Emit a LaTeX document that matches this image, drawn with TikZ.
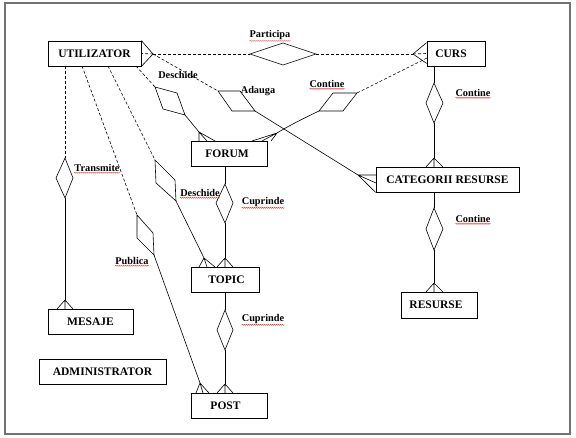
\documentclass[tikz,border=0pt]{standalone}
\usepackage{fontspec}
\setmainfont{Liberation Serif}
\usetikzlibrary{decorations.pathmorphing}
\tikzset{
  ent/.style={draw, line width=0.8pt, minimum height=25pt, inner sep=0pt, font=\fontsize{11.5}{13}\selectfont\bfseries},
  lbl/.style={inner sep=0pt, font=\fontsize{10.3}{12}\selectfont\bfseries},
  conn/.style={line width=0.6pt},
  dconn/.style={line width=0.6pt, dash pattern=on 3pt off 2pt},
  rel/.style={line width=0.6pt, fill=white},
  squig/.style={draw=red!85!black, line width=0.3pt, decorate, decoration={snake, amplitude=0.5pt, segment length=2pt}}
}
\begin{document}
\begin{tikzpicture}[x=1pt,y=-1pt]
\useasboundingbox (0,0) rectangle (576,438);
\draw[line width=1.6pt, draw=black!55] (5,3) rectangle (570,434);

% entities
\node[ent, minimum width=93pt] (u) at (94.5,53.5) {UTILIZATOR};
\node[ent, minimum width=58pt] (curs) at (456,53.5) {CURS\hspace*{10pt}};
\node[ent, minimum width=76pt] (forum) at (229,153.5) {FORUM\hspace*{4pt}};
\node[ent, minimum width=143pt] (cat) at (447.5,179.5) {CATEGORII RESURSE};
\node[ent, minimum width=68pt] (topic) at (225,279.5) {TOPIC\hspace*{-3pt}};
\node[ent, minimum width=85pt] (mesaje) at (90.5,321.5) {MESAJE};
\node[ent, minimum width=127pt] (admin) at (102.5,371.5) {ADMINISTRATOR};
\node[ent, minimum width=76pt] (post) at (229,405.5) {POST\hspace*{7pt}};
\node[ent, minimum width=76pt, minimum height=26pt] (res) at (439,305) {RESURSE\hspace*{6pt}};

% crow apices
\coordinate (cu) at (153,54);
\coordinate (cc) at (413,54);
\coordinate (cf1) at (199,132);
\coordinate (cf2) at (277,133);
\coordinate (ccat1) at (358,175);
\coordinate (ccat2) at (434,158);
\coordinate (ct1) at (204,258);
\coordinate (ct2) at (225,258);
\coordinate (cp1) at (200,383);
\coordinate (cp2) at (225,384);
\coordinate (cm) at (65,300);
\coordinate (cr) at (434,283);

% crow feet
\draw[conn] (u.north east) -- (cu) -- (u.south east);
\draw[dconn] (cu) -- (u.east);
\draw[conn] ([yshift=-2pt]curs.north west) -- (cc) -- ([yshift=3pt]curs.south west);
\draw[dconn] (cc) -- (curs.west);
\draw[conn] (cf1) -- (199,141) (cf1) -- (207,141) (cf1) -- (215,141);
\draw[conn] (cf2) -- (252,141) (cf2) -- (262,141) (cf2) -- (271,141);
\draw[conn] (ccat1) -- (376,175) (ccat1) -- (376,183) (ccat1) -- (cat.south west);
\draw[conn] (ccat2) -- (426,167) (ccat2) -- (434,167) (ccat2) -- (443,167);
\draw[conn] (ct1) -- (199,267) (ct1) -- (207,267) (ct1) -- (215,267);
\draw[conn] (ct2) -- (217,267) (ct2) -- (225,267) (ct2) -- (233,267);
\draw[conn] (cp1) -- (196,393) (cp1) -- (203,393) (cp1) -- (209,393);
\draw[conn] (cp2) -- (217,393) (cp2) -- (225,393) (cp2) -- (233,393);
\draw[conn] (cm) -- (57,309) (cm) -- (65,309) (cm) -- (73,309);
\draw[conn] (cr) -- (426,292) (cr) -- (434,292) (cr) -- (443,292);

% Participa
\draw[dconn] (cu) -- (250,54);
\draw[dconn] (316,54) -- (cc);
\draw[rel] (250,54) -- (283,43) -- (316,54) -- (283,65) -- cycle;
\node[lbl] (lpart) at (270,35) {Participa};

% Contine CURS-FORUM
\draw[dconn] (427,58) -- (357,93);
\draw[conn] (319,111) .. controls (300,120) and (285,128) .. (cf2);
\draw[rel] (333,93) -- (357,93) -- (343,111) -- (319,111) -- cycle;
\node[lbl] (lcont1) at (327,84) {Contine};

% Adauga
\draw[dconn] (cu) -- (218,91);
\draw[conn] (255,111) -- (ccat1);
\draw[rel] (218,91) -- (240,91) -- (255,111) -- (232,111) -- cycle;
\node[lbl] (ladauga) at (258,91) {Adauga};

% Deschide forum
\draw[dconn] (136,66) -- (155,87);
\draw[conn] (185,115) -- (cf1);
\draw[rel] (155,87) -- (177,93) -- (185,115) -- (163,109) -- cycle;
\node[lbl] (ldes1) at (178,75) {Deschide};

% Deschide topic
\draw[dconn] (108,66) -- (155,160);
\draw[conn] (176,201) -- (ct1);
\draw[rel] (155,160) -- (175,180) -- (176,201) -- (156,183) -- cycle;
\node[lbl] (ldes2) at (200,193) {Deschide};

% Publica
\draw[dconn] (82,66) -- (137,215);
\draw[conn] (154,255) -- (cp1);
\draw[rel] (137,215) -- (153,233) -- (154,255) -- (137,238) -- cycle;
\node[lbl] (lpub) at (132,261) {Publica};

% Transmite
\draw[dconn] (65,66) -- (65,158);
\draw[conn] (65,198) -- (cm);
\draw[rel] (65,158) -- (73,178) -- (65,198) -- (56,178) -- cycle;
\node[lbl] (ltrans) at (97,168) {Transmite};

% Cuprinde forum-topic
\draw[conn] (225,166) -- (225,184);
\draw[conn] (225,223) -- (ct2);
\draw[rel] (225,184) -- (233,203) -- (225,223) -- (216,203) -- cycle;
\node[lbl] (lcup1) at (263,202) {Cuprinde};

% Cuprinde topic-post
\draw[conn] (225,292) -- (225,310);
\draw[conn] (225,350) -- (cp2);
\draw[rel] (225,310) -- (233,330) -- (225,350) -- (217,330) -- cycle;
\node[lbl] (lcup2) at (263,319) {Cuprinde};

% Contine CURS-CAT
\draw[conn] (434,66) -- (434,83);
\draw[conn] (434,123) -- (ccat2);
\draw[rel] (434,83) -- (443,103) -- (434,123) -- (426,103) -- cycle;
\node[lbl] (lcont2) at (473,93) {Contine};

% Contine CAT-RES
\draw[conn] (434,192) -- (434,208);
\draw[conn] (434,250) -- (cr);
\draw[rel] (434,208) -- (443,229) -- (434,250) -- (426,229) -- cycle;
\node[lbl] (lcont3) at (473,219) {Contine};

% spell-check underlines
\foreach \n in {lpart,lcont1,lcont2,lcont3,ltrans,ldes2,lcup1,lcup2,lpub}
  \path[squig] ([yshift=-1pt]\n.south west) -- ([yshift=-1pt]\n.south east);
\end{tikzpicture}
\end{document}
